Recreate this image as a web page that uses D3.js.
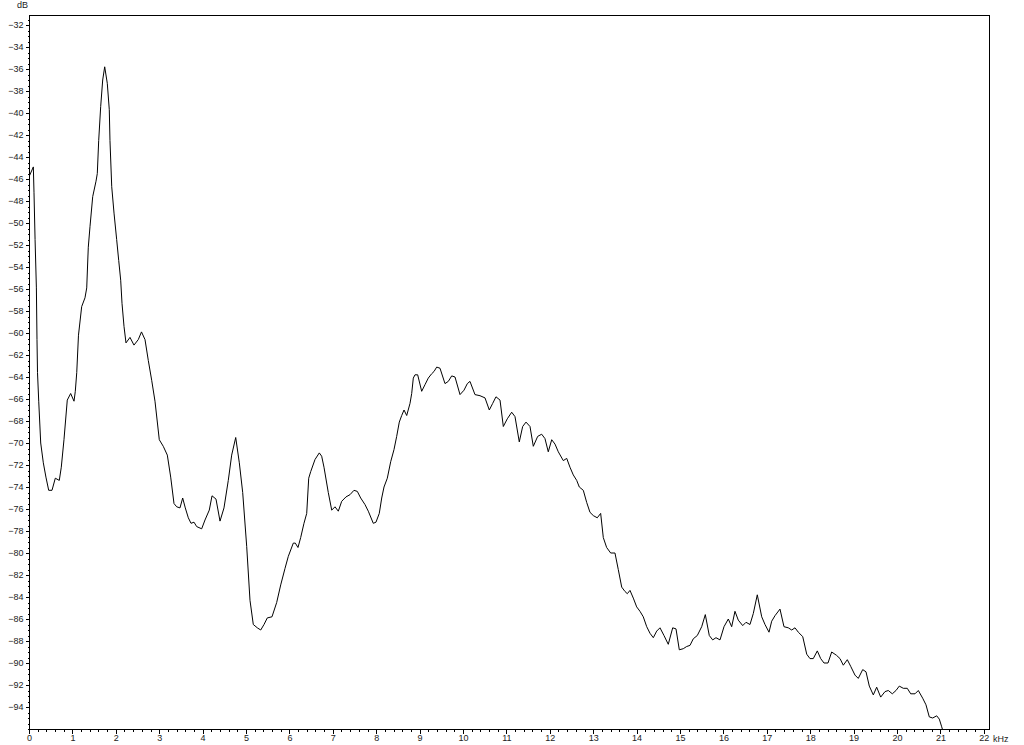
<!DOCTYPE html>
<html>
<head>
<meta charset="utf-8">
<style>
  body { margin: 0; background: #fff; }
  svg { display: block; }
  .axis text { font-family: "Liberation Sans", Arial, sans-serif; font-size: 9px; fill: #222; }
  .axis path, .axis line { stroke: #000; shape-rendering: crispEdges; }
  .unit { font-family: "Liberation Sans", Arial, sans-serif; font-size: 9px; fill: #222; }
</style>
</head>
<body>
<div id="chart"></div>
<script src="https://d3js.org/d3.v7.min.js"></script>
<script>
  // spectrum
  const freqKHz = [
    0, 0.10, 0.115, 0.14, 0.17, 0.184, 0.196, 0.224, 0.27, 0.33, 0.39, 0.454, 0.53, 0.606, 0.698, 0.744, 0.806, 0.882, 0.96,
    1.037, 1.067, 1.10, 1.14, 1.214, 1.29, 1.33, 1.366, 1.406, 1.468, 1.544, 1.574, 1.606, 1.652, 1.698, 1.744, 1.804, 1.85, 1.866, 1.906, 1.959,
    2.02, 2.067, 2.113, 2.143, 2.189, 2.235, 2.327, 2.419, 2.518, 2.592, 2.673, 2.749, 2.827, 2.903,
    3.002, 3.094, 3.187, 3.265, 3.341, 3.403, 3.479, 3.541, 3.601, 3.671, 3.733, 3.802, 3.864, 3.979,
    4.055, 4.154, 4.217, 4.309, 4.401, 4.493, 4.592, 4.67, 4.763, 4.846, 4.924,
    5.016, 5.092, 5.168, 5.26, 5.339, 5.415, 5.491, 5.599, 5.707, 5.8, 5.899, 5.975,
    6.09, 6.136, 6.198, 6.26, 6.336, 6.399, 6.445, 6.491, 6.59, 6.689, 6.744, 6.797, 6.896, 6.975,
    7.051, 7.127, 7.205, 7.304, 7.396, 7.488, 7.565, 7.643, 7.742, 7.818, 7.933, 7.995,
    8.071, 8.127, 8.18, 8.256, 8.334, 8.41, 8.472, 8.532, 8.588, 8.641, 8.703, 8.779, 8.818, 8.855, 8.894, 8.956,
    9.048, 9.124, 9.2, 9.279, 9.332, 9.394, 9.47, 9.585, 9.661, 9.74, 9.816, 9.931,
    10.023, 10.1, 10.161, 10.276, 10.392, 10.507, 10.606, 10.684, 10.76, 10.853, 10.929,
    11.021, 11.122, 11.198, 11.297, 11.375, 11.452, 11.544, 11.62, 11.721, 11.813, 11.889, 11.965,
    12.044, 12.12, 12.196, 12.311, 12.39, 12.465, 12.541, 12.62, 12.68, 12.772, 12.85, 12.926,
    13.003, 13.094, 13.172, 13.233, 13.31, 13.403, 13.502, 13.578, 13.657, 13.733, 13.786, 13.848, 13.924,
    14.002, 14.078, 14.154, 14.233, 14.309, 14.385, 14.463, 14.539, 14.631, 14.73, 14.832, 14.908, 14.984,
    15.076, 15.154, 15.23, 15.306, 15.399, 15.5, 15.583, 15.675, 15.753, 15.829, 15.922,
    16.014, 16.113, 16.191, 16.267, 16.343, 16.445, 16.521, 16.613, 16.689, 16.781, 16.883, 16.959,
    17.051, 17.113, 17.189, 17.304, 17.396, 17.495, 17.574, 17.65, 17.726, 17.828, 17.92, 17.995,
    18.071, 18.164, 18.242, 18.318, 18.41, 18.495, 18.606, 18.687, 18.763, 18.855, 18.933,
    19.032, 19.108, 19.21, 19.286, 19.362, 19.454, 19.532, 19.624, 19.724, 19.8, 19.892, 19.977,
    20.053, 20.145, 20.237, 20.316, 20.415, 20.491, 20.592, 20.668, 20.744, 20.823, 20.915, 20.975,
    21.03, 21.06
  ];
  const levelDb = [
    -45.8, -44.9, -47.2, -51.5, -55.9, -60.6, -63.6, -66.2, -70.0, -71.8, -73.1, -74.3, -74.3, -73.2, -73.4, -72.2, -69.7, -66.1, -65.5,
    -66.2, -65.3, -63.6, -60.2, -57.6, -56.8, -55.9, -52.2, -50.3, -47.6, -46.2, -45.5, -42.5, -39.4, -37.0, -35.8, -37.3, -39.7, -42.5, -46.7, -49.1,
    -51.5, -53.4, -55.2, -57.3, -59.4, -60.9, -60.4, -61.1, -60.6, -59.9, -60.6, -62.5, -64.3, -66.2,
    -69.7, -70.3, -71.1, -73.1, -75.5, -75.8, -75.9, -75.0, -75.9, -76.8, -77.3, -77.2, -77.6, -77.8,
    -77.0, -76.1, -74.8, -75.1, -77.1, -75.9, -73.4, -71.1, -69.5, -71.8, -74.5,
    -79.4, -84.3, -86.5, -86.8, -87.0, -86.5, -85.9, -85.8, -84.5, -82.9, -81.4, -80.3,
    -79.1, -79.1, -79.5, -78.6, -77.3, -76.4, -73.2, -72.6, -71.5, -70.9, -71.2, -72.2, -74.5, -76.1,
    -75.8, -76.2, -75.3, -74.9, -74.7, -74.3, -74.4, -75.0, -75.6, -76.2, -77.3, -77.2,
    -76.4, -75.0, -74.0, -73.2, -71.7, -70.6, -69.4, -68.1, -67.5, -67.0, -67.5, -66.4, -65.5, -64.1, -63.8, -63.8,
    -65.3, -64.7, -64.1, -63.7, -63.5, -63.1, -63.2, -64.6, -64.4, -63.9, -64.0, -65.6,
    -65.2, -64.6, -64.4, -65.6, -65.7, -65.9, -67.0, -66.4, -65.8, -66.1, -68.5,
    -67.8, -67.2, -67.6, -69.9, -68.5, -68.1, -68.5, -70.3, -69.4, -69.2, -69.6, -70.8,
    -69.7, -70.1, -70.8, -71.6, -71.4, -72.2, -72.9, -73.4, -74.0, -74.3, -75.4, -76.3,
    -76.6, -76.8, -76.4, -78.6, -79.5, -80.0, -80.0, -81.5, -83.1, -83.5, -83.7, -83.4, -84.1,
    -84.9, -85.3, -85.8, -86.7, -87.3, -87.7, -87.1, -86.8, -87.5, -88.3, -86.8, -86.9, -88.8,
    -88.7, -88.5, -88.4, -87.8, -87.5, -86.7, -85.6, -87.5, -87.9, -87.7, -87.9,
    -86.7, -86.0, -86.7, -85.3, -86.1, -86.6, -86.3, -86.5, -85.5, -83.8, -85.8, -86.5,
    -87.2, -86.2, -85.7, -85.1, -86.7, -86.8, -87.0, -86.8, -87.2, -87.6, -89.2, -89.6,
    -89.6, -88.9, -89.6, -90.0, -90.0, -89.0, -89.3, -89.6, -90.2, -89.7, -90.3,
    -91.1, -91.4, -90.6, -90.8, -92.1, -92.9, -92.2, -93.1, -92.6, -92.5, -92.8, -92.5,
    -92.1, -92.3, -92.3, -92.8, -92.8, -92.5, -93.2, -93.8, -94.9, -95.0, -94.8, -95.1,
    -95.8, -96.2
  ];
  const xMajorTicks = d3.range(0, 23, 1);
  const xMinorTicks = d3.range(0, 22.01, 0.2);
  const yMajorTicks = d3.range(-94, -31, 2);
  const yMinorTicks = d3.range(-96, -31, 0.5);

  const W = 1024, H = 745;
  const plotLeft = 29, plotRight = 989, plotTop = 15, plotBottom = 729;

  const svg = d3.select('#chart').append('svg')
    .attr('width', W)
    .attr('height', H);

  const x = d3.scaleLinear().domain([0, 22.12]).range([plotLeft, plotRight]);
  const y = d3.scaleLinear().domain([-96, -31.09]).range([plotBottom, plotTop]);

  // frame
  svg.append('rect')
    .attr('x', plotLeft + 0.5).attr('y', plotTop + 0.5)
    .attr('width', plotRight - plotLeft).attr('height', plotBottom - plotTop)
    .attr('fill', 'none').attr('stroke', '#000')
    .attr('shape-rendering', 'crispEdges');

  svg.append('defs').append('clipPath').attr('id', 'clip')
    .append('rect')
    .attr('x', plotLeft).attr('y', plotTop)
    .attr('width', plotRight - plotLeft).attr('height', plotBottom - plotTop);

  // axes: minor ticks first, then labelled majors
  svg.append('g').attr('class', 'axis')
    .attr('transform', `translate(${plotLeft + 0.5},0)`)
    .call(d3.axisLeft(y).tickValues(yMinorTicks).tickSize(2).tickFormat(''))
    .call(g => g.select('.domain').remove());
  svg.append('g').attr('class', 'axis')
    .attr('transform', `translate(${plotLeft + 0.5},0)`)
    .call(d3.axisLeft(y).tickValues(yMajorTicks).tickSize(4).tickPadding(2).tickFormat(d3.format('d')))
    .call(g => g.select('.domain').remove());

  svg.append('g').attr('class', 'axis')
    .attr('transform', `translate(0,${plotBottom + 0.5})`)
    .call(d3.axisBottom(x).tickValues(xMinorTicks).tickSize(2).tickFormat(''))
    .call(g => g.select('.domain').remove());
  svg.append('g').attr('class', 'axis')
    .attr('transform', `translate(0,${plotBottom + 0.5})`)
    .call(d3.axisBottom(x).tickValues(xMajorTicks).tickSize(4).tickPadding(1).tickFormat(d3.format('d')))
    .call(g => g.select('.domain').remove());

  svg.append('text').attr('class', 'unit')
    .attr('x', 17).attr('y', 8)
    .text('dB');
  svg.append('text').attr('class', 'unit')
    .attr('x', 993).attr('y', 742)
    .text('kHz');

  const points = freqKHz.map((f, i) => [f, levelDb[i]]);

  svg.append('path')
    .datum(points)
    .attr('clip-path', 'url(#clip)')
    .attr('fill', 'none')
    .attr('stroke', '#000')
    .attr('stroke-width', 1)
    .attr('d', d3.line().x(d => x(d[0])).y(d => y(d[1])));
</script>
</body>
</html>
